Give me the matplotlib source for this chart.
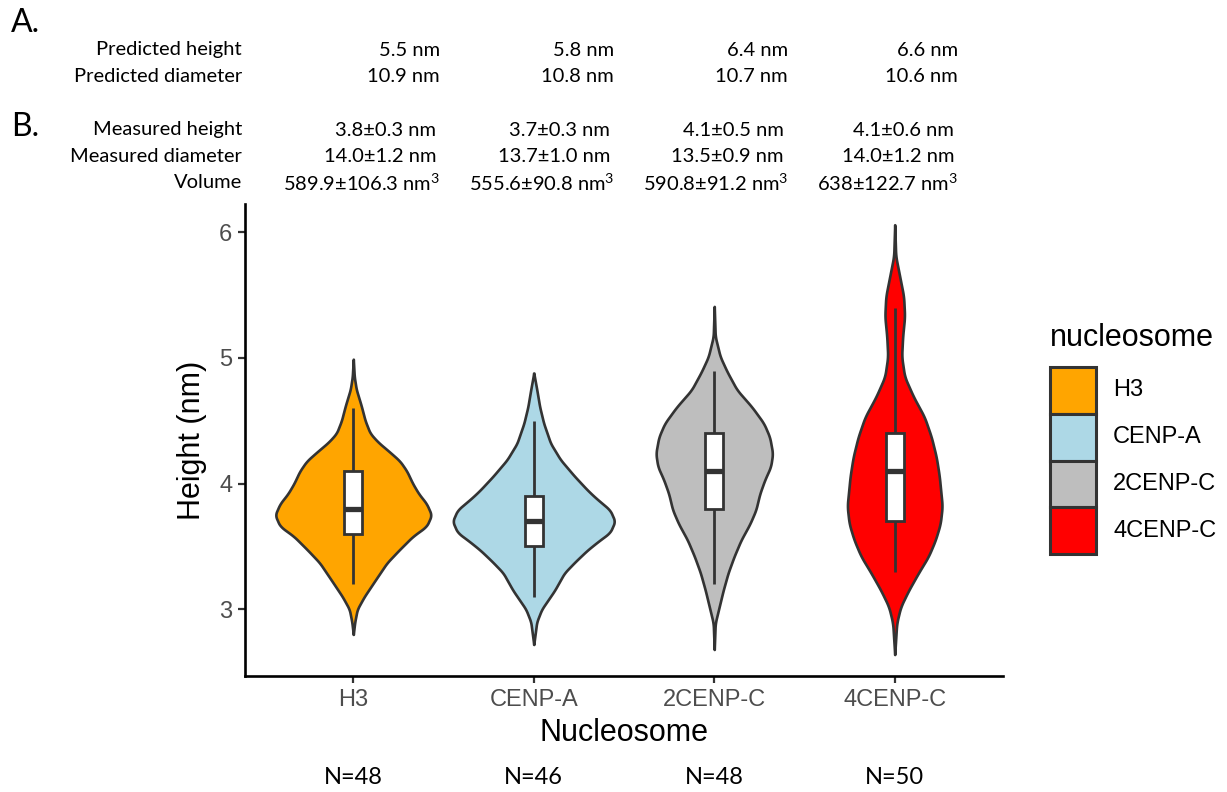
import numpy as np
from matplotlib import pyplot as plt
from matplotlib.patches import Rectangle

W, H = 1227, 792  # figure size in pixels (dpi 100)

groups = ['H3', 'CENP-A', '2CENP-C', '4CENP-C']
colors = ['#FFA500', '#ADD8E6', '#BEBEBE', '#FF0000']
n_obs = [48, 46, 48, 50]

### tabla de valores (panel A y B)
pred_height = ['5.5 nm', '5.8 nm', '6.4 nm', '6.6 nm']
pred_diam = ['10.9 nm', '10.8 nm', '10.7 nm', '10.6 nm']
meas_height = ['3.8±0.3 nm', '3.7±0.3 nm', '4.1±0.5 nm', '4.1±0.6 nm']
meas_diam = ['14.0±1.2 nm', '13.7±1.0 nm', '13.5±0.9 nm', '14.0±1.2 nm']
volume = ['589.9±106.3 nm$^3$', '555.6±90.8 nm$^3$', '590.8±91.2 nm$^3$', '638±122.7 nm$^3$']

### boxplot: whisker low, q1, median, q3, whisker high
box_stats = [
    [3.2, 3.6, 3.8, 4.1, 4.6],
    [3.1, 3.5, 3.7, 3.9, 4.5],
    [3.2, 3.8, 4.1, 4.4, 4.9],
    [3.3, 3.7, 4.1, 4.4, 5.4],
]

### violin outlines: height (nm) and relative density
h3_y = [4.99, 4.85, 4.75, 4.62, 4.50, 4.40, 4.33, 4.25, 4.18, 4.10, 4.00, 3.92,
        3.84, 3.75, 3.66, 3.58, 3.47, 3.37, 3.23, 3.10, 3.00, 2.90, 2.80]
h3_d = [0, 1, 3, 8, 12, 17, 25, 37, 47, 54, 60, 66,
        74, 79, 74, 60, 46, 34, 22, 11, 4, 1.5, 0]

cenpa_y = [4.88, 4.75, 4.61, 4.48, 4.32, 4.19, 4.06, 3.95, 3.89, 3.79, 3.70, 3.61,
           3.54, 3.47, 3.38, 3.29, 3.15, 3.00, 2.90, 2.72]
cenpa_d = [0, 3, 6, 10, 17, 27, 41, 54, 62, 77, 82, 77,
           65, 54, 42, 31, 21, 8, 3, 0]

c2_y = [5.41, 5.17, 5.01, 4.89, 4.745, 4.61, 4.48, 4.37, 4.24, 4.135, 4.03, 3.92,
        3.79, 3.68, 3.55, 3.42, 3.29, 3.15, 3.02, 2.89, 2.68]
c2_d = [0, 1, 6, 13, 23, 38, 50, 56, 59, 57, 51, 46,
        42, 36, 27, 20, 14, 9, 5, 1, 0]

c4_y = [6.06, 5.81, 5.65, 5.49, 5.33, 5.17, 5.01, 4.85, 4.69, 4.53, 4.37, 4.21,
        4.06, 3.82, 3.68, 3.55, 3.42, 3.29, 3.15, 3.02, 2.89, 2.64]
c4_d = [0, 1, 5, 9, 10, 8, 7, 10, 19, 30, 37, 42,
        45, 48, 46, 41, 34, 24, 14, 6, 2, 0]

violin_y = [h3_y, cenpa_y, c2_y, c4_y]
violin_d = [h3_d, cenpa_d, c2_d, c4_d]

AX_FONT = 'Liberation Sans'
TXT_FONT = 'Lato'
DARK = '#333333'


def px(x, y):
    ### pixel -> figure coords
    return x / W, 1 - y / H


fig = plt.figure(figsize=(W / 100, H / 100), dpi=100)
ax = fig.add_axes([245 / W, 1 - 676 / H, (1003 - 245) / W, (676 - 204) / H])

max_d = max(max(d) for d in violin_d)
for i, (ys, ds) in enumerate(zip(violin_y, violin_d)):
    xc = i + 1
    ys = np.array(ys)[::-1]
    ds = np.array(ds, dtype=float)[::-1]
    yf = np.linspace(ys[0], ys[-1], 400)
    wf = np.interp(yf, ys, ds)
    k = np.ones(11) / 11
    wf = np.convolve(wf, k, mode='same')  # suaviza el contorno
    wf = wf / max_d * 0.45
    ax.fill_betweenx(yf, xc - wf, xc + wf, facecolor=colors[i],
                     edgecolor=DARK, linewidth=1.9, zorder=2)

    lo, q1, med, q3, hi = box_stats[i]
    ax.vlines(xc, lo, q1, color=DARK, linewidth=2, zorder=3)
    ax.vlines(xc, q3, hi, color=DARK, linewidth=2, zorder=3)
    ax.add_patch(Rectangle((xc - 0.05, q1), 0.1, q3 - q1, facecolor='white',
                           edgecolor=DARK, linewidth=2, zorder=4))
    ax.hlines(med, xc - 0.05, xc + 0.05, color=DARK, linewidth=3.8, zorder=5)

ax.set_xlim(0.4, 4.6)
ax.set_ylim(2.469, 6.225)
ax.set_xticks(range(1, 5))
ax.set_xticklabels(groups)
ax.set_yticks([3, 4, 5, 6])
for s in ['top', 'right']:
    ax.spines[s].set_visible(False)
for s in ['left', 'bottom']:
    ax.spines[s].set_linewidth(1.9)
    ax.spines[s].set_color('black')
ax.tick_params(length=5, width=1.6, color=DARK, labelcolor='#4D4D4D',
               labelsize=17, pad=4)
for lab in ax.get_xticklabels() + ax.get_yticklabels():
    lab.set_fontfamily(AX_FONT)

fig.text(*px(192, 440), 'Height (nm)', rotation=90, ha='center', va='center',
         fontsize=22, family=AX_FONT)
fig.text(*px(624, 733), 'Nucleosome', ha='center', va='center',
         fontsize=22, family=AX_FONT)

### N= debajo de cada grupo
for i, n in enumerate(n_obs):
    xfig = ax.transData.transform((i + 1, 0))[0] / W
    fig.text(xfig, 1 - 777 / H, f'N={n}', ha='center', va='center',
             fontsize=17, family=TXT_FONT)

### panel A / B
fig.text(*px(11, 23), 'A.', ha='left', va='center', fontsize=23, family=TXT_FONT)
fig.text(*px(11, 127), 'B.', ha='left', va='center', fontsize=23, family=TXT_FONT)

rows = [
    ('Predicted height', pred_height, 50, 0),
    ('Predicted diameter', pred_diam, 77, 0),
    ('Measured height', meas_height, 130, -4),
    ('Measured diameter', meas_diam, 157, -4),
    ('Volume', volume, 183, 0),
]
col_right = [440, 614, 788, 958]
plt.rcParams['mathtext.fontset'] = 'custom'
plt.rcParams['mathtext.rm'] = TXT_FONT
plt.rcParams['mathtext.it'] = TXT_FONT
for label, vals, yy, off in rows:
    fig.text(*px(242, yy), label, ha='right', va='center', fontsize=14.5,
             family=TXT_FONT)
    for xr, v in zip(col_right, vals):
        fig.text(*px(xr + off, yy), v, ha='right', va='center', fontsize=14.5,
                 family=TXT_FONT)

### leyenda manual
fig.text(*px(1050, 338), 'nucleosome', ha='left', va='center', fontsize=22,
         family=AX_FONT)
key_h = 46.8
for i, (g, c) in enumerate(zip(groups, colors)):
    top = 367 + i * key_h
    x0, y0 = px(1050, top + key_h)
    fig.add_artist(Rectangle((x0, y0), 46 / W, key_h / H, transform=fig.transFigure,
                             facecolor=c, edgecolor=DARK, linewidth=2.2))
    fig.text(*px(1113, top + key_h / 2), g, ha='left', va='center', fontsize=17,
             family=AX_FONT)

fig.savefig('out.png', dpi=100)
